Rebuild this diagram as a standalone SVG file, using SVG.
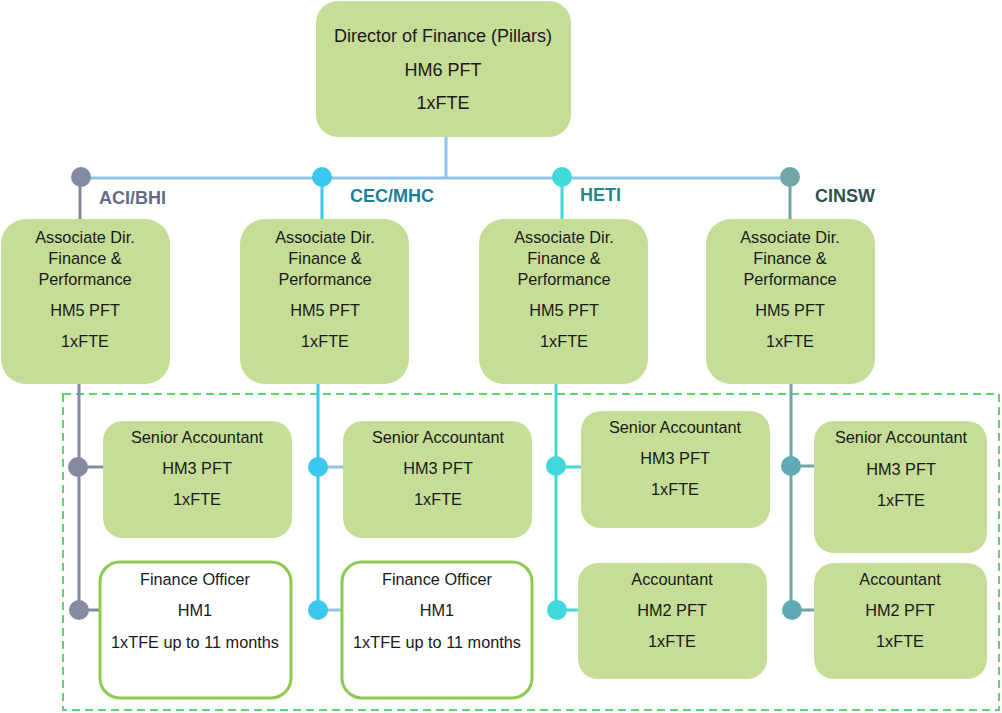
<svg xmlns="http://www.w3.org/2000/svg" width="1002" height="713" viewBox="0 0 1002 713">
  <style>
    .box { fill: #C5DD96; }
    .temp { fill: #FFFFFF; stroke: #8CCB50; stroke-width: 3; }
    .t { font-family: "Liberation Sans", Arial, sans-serif; font-size: 16.3px; fill: #1A1A1A; text-anchor: middle; }
    .big { font-size: 18px; }
    .lbl { font-family: "Liberation Sans", Arial, sans-serif; font-size: 18px; font-weight: bold; }
    .wire { fill: none; stroke-width: 3; }
  </style>
  <rect width="1002" height="713" fill="#FFFFFF"/>

  <!-- team boundary -->
  <rect x="63" y="394" width="936" height="316" fill="none" stroke="#5CD66C" stroke-width="2" stroke-dasharray="8 5"/>

  <!-- connectors -->
  <g id="connectors">
    <path class="wire" stroke="#8EC3EA" d="M446 137 V178 M81 178 H790"/>
    <!-- ACI/BHI -->
    <path class="wire" stroke="#858AA0" d="M80 178 V219 M79 384 V610 M79 467 H103 M79 610 H100"/>
    <circle cx="81" cy="177" r="10" fill="#858AA0"/>
    <circle cx="78" cy="467" r="10" fill="#858AA0"/>
    <circle cx="79" cy="610" r="10" fill="#858AA0"/>
    <!-- CEC/MHC -->
    <path class="wire" stroke="#3CC8EE" d="M322 178 V219 M318 384 V610"/>
    <path class="wire" stroke="#8EC3EA" d="M318 467 H343 M318 610 H342"/>
    <circle cx="322" cy="177" r="10" fill="#3CC8EE"/>
    <circle cx="318" cy="467" r="10" fill="#3CC8EE"/>
    <circle cx="318" cy="610" r="10" fill="#3CC8EE"/>
    <!-- HETI -->
    <path class="wire" stroke="#40D8DA" d="M562 178 V219 M556 384 V610 M556 467 H581 M556 610 H578"/>
    <circle cx="562" cy="177" r="10" fill="#40D8DA"/>
    <circle cx="556" cy="466" r="10" fill="#40D8DA"/>
    <circle cx="557" cy="610" r="10" fill="#40D8DA"/>
    <!-- CINSW -->
    <path class="wire" stroke="#6FA6A6" d="M790 178 V219 M791 384 V610 M791 466 H814 M791 610 H814"/>
    <circle cx="790" cy="177" r="10" fill="#6FA6A6"/>
    <circle cx="791" cy="466" r="10" fill="#5EABB6"/>
    <circle cx="792" cy="610" r="10" fill="#5EABB6"/>
  </g>

  <!-- group labels -->
  <text class="lbl" x="99" y="204" fill="#646B84">ACI/BHI</text>
  <text class="lbl" x="350" y="202" fill="#1B7E9A">CEC/MHC</text>
  <text class="lbl" x="580" y="201" fill="#1A8A8A">HETI</text>
  <text class="lbl" x="815" y="202" fill="#2E5050">CINSW</text>

  <g id="director">
    <rect class="box" x="316" y="1" width="255" height="136" rx="22"/>
    <text class="t big" x="443" y="42">Director of Finance (Pillars)</text>
    <text class="t big" x="443" y="76">HM6 PFT</text>
    <text class="t big" x="443" y="109">1xFTE</text>
  </g>

  <g id="assoc-aci">
    <rect class="box" x="1" y="219" width="169" height="165" rx="25"/>
    <text class="t" x="85" y="243">Associate Dir.</text>
    <text class="t" x="85" y="264">Finance &amp;</text>
    <text class="t" x="85" y="285">Performance</text>
    <text class="t" x="85" y="316">HM5 PFT</text>
    <text class="t" x="85" y="347">1xFTE</text>
  </g>
  <g id="assoc-cec">
    <rect class="box" x="240" y="219" width="169" height="165" rx="25"/>
    <text class="t" x="325" y="243">Associate Dir.</text>
    <text class="t" x="325" y="264">Finance &amp;</text>
    <text class="t" x="325" y="285">Performance</text>
    <text class="t" x="325" y="316">HM5 PFT</text>
    <text class="t" x="325" y="347">1xFTE</text>
  </g>
  <g id="assoc-heti">
    <rect class="box" x="479" y="219" width="169" height="165" rx="25"/>
    <text class="t" x="564" y="243">Associate Dir.</text>
    <text class="t" x="564" y="264">Finance &amp;</text>
    <text class="t" x="564" y="285">Performance</text>
    <text class="t" x="564" y="316">HM5 PFT</text>
    <text class="t" x="564" y="347">1xFTE</text>
  </g>
  <g id="assoc-cinsw">
    <rect class="box" x="706" y="219" width="169" height="165" rx="25"/>
    <text class="t" x="790" y="243">Associate Dir.</text>
    <text class="t" x="790" y="264">Finance &amp;</text>
    <text class="t" x="790" y="285">Performance</text>
    <text class="t" x="790" y="316">HM5 PFT</text>
    <text class="t" x="790" y="347">1xFTE</text>
  </g>

  <g id="senior-aci">
    <rect class="box" x="103" y="421" width="189" height="117" rx="20"/>
    <text class="t" x="197" y="443">Senior Accountant</text>
    <text class="t" x="197" y="474">HM3 PFT</text>
    <text class="t" x="197" y="505">1xFTE</text>
  </g>
  <g id="senior-cec">
    <rect class="box" x="343" y="421" width="189" height="117" rx="20"/>
    <text class="t" x="438" y="443">Senior Accountant</text>
    <text class="t" x="438" y="474">HM3 PFT</text>
    <text class="t" x="438" y="505">1xFTE</text>
  </g>
  <g id="senior-heti">
    <rect class="box" x="581" y="411" width="189" height="117" rx="20"/>
    <text class="t" x="675" y="433">Senior Accountant</text>
    <text class="t" x="675" y="464">HM3 PFT</text>
    <text class="t" x="675" y="495">1xFTE</text>
  </g>
  <g id="senior-cinsw">
    <rect class="box" x="814" y="421" width="173" height="132" rx="20"/>
    <text class="t" x="901" y="443">Senior Accountant</text>
    <text class="t" x="901" y="475">HM3 PFT</text>
    <text class="t" x="901" y="506">1xFTE</text>
  </g>

  <g id="officer-aci">
    <rect class="temp" x="100" y="562" width="191" height="136" rx="20"/>
    <text class="t" x="195" y="585">Finance Officer</text>
    <text class="t" x="195" y="616">HM1</text>
    <text class="t" x="195" y="648">1xTFE up to 11 months</text>
  </g>
  <g id="officer-cec">
    <rect class="temp" x="342" y="562" width="190" height="136" rx="20"/>
    <text class="t" x="437" y="585">Finance Officer</text>
    <text class="t" x="437" y="616">HM1</text>
    <text class="t" x="437" y="648">1xTFE up to 11 months</text>
  </g>
  <g id="accountant-heti">
    <rect class="box" x="578" y="563" width="189" height="116" rx="20"/>
    <text class="t" x="672" y="585">Accountant</text>
    <text class="t" x="672" y="616">HM2 PFT</text>
    <text class="t" x="672" y="647">1xFTE</text>
  </g>
  <g id="accountant-cinsw">
    <rect class="box" x="814" y="563" width="173" height="116" rx="20"/>
    <text class="t" x="900" y="585">Accountant</text>
    <text class="t" x="900" y="616">HM2 PFT</text>
    <text class="t" x="900" y="647">1xFTE</text>
  </g>
</svg>
